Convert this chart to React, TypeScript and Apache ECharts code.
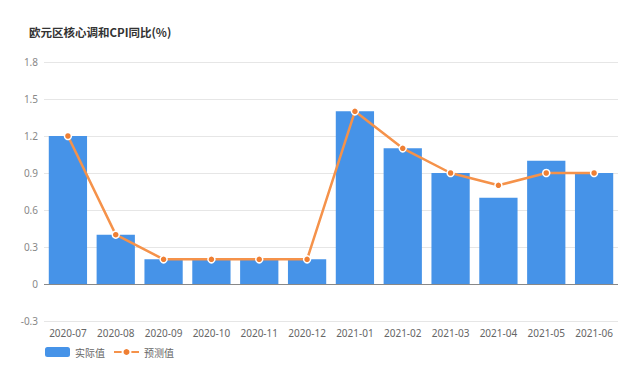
import React, { useEffect, useRef } from "react";
import * as echarts from "echarts";

const categories = ["2020-07", "2020-08", "2020-09", "2020-10", "2020-11", "2020-12", "2021-01", "2021-02", "2021-03", "2021-04", "2021-05", "2021-06"];
const actualValues = [1.2, 0.4, 0.2, 0.2, 0.2, 0.2, 1.4, 1.1, 0.9, 0.7, 1.0, 0.9];
const forecastValues = [1.2, 0.4, 0.2, 0.2, 0.2, 0.2, 1.4, 1.1, 0.9, 0.8, 0.9, 0.9];
const yMin = -0.3;
const yMax = 1.8;
const yInterval = 0.3;

export default function App() {
  const ref = useRef<HTMLDivElement>(null);
  useEffect(() => {
    if (!ref.current) return;
    const chart = echarts.init(ref.current, undefined, { renderer: "svg" });
    chart.setOption({
      animation: false,
      title: {
        text: "欧元区核心调和CPI同比(%)",
        left: 24,
        top: 21,
        textStyle: { fontSize: 11.5, fontWeight: "bold", color: "#333", fontFamily: "Noto Sans CJK SC" },
      },
      grid: { left: 44, right: 22, top: 62, bottom: 48, containLabel: false },
      legend: {
        left: 40,
        top: 342,
        itemWidth: 25,
        itemHeight: 10,
        itemGap: 8,
        textStyle: { fontSize: 10, color: "#666", fontFamily: "Noto Sans CJK SC" },
        data: [
          { name: "实际值", icon: "roundRect" },
          { name: "预测值" },
        ],
      },
      xAxis: {
        type: "category",
        data: categories,
        axisLine: { show: false },
        axisTick: { show: false },
        axisLabel: { color: "#666", fontSize: 10, margin: 7, interval: 0, fontFamily: "Noto Sans" },
      },
      yAxis: {
        type: "value",
        min: yMin,
        max: yMax,
        interval: yInterval,
        axisLine: { show: false },
        axisTick: { show: false },
        axisLabel: {
          color: "#888",
          fontSize: 10,
          margin: 6,
          fontFamily: "Noto Sans",
          formatter: (v: number) => (Math.abs(v) < 1e-9 ? "0" : v.toFixed(1)),
        },
        splitLine: { lineStyle: { color: "#e6e6e6", width: 1 } },
      },
      series: [
        {
          name: "实际值",
          type: "bar",
          data: actualValues,
          barCategoryGap: "20%",
          itemStyle: { color: "#4693e8" },
          markLine: {
            silent: true,
            symbol: "none",
            label: { show: false },
            lineStyle: { color: "#888", type: "solid", width: 1 },
            data: [{ yAxis: 0 }],
          },
        },
        {
          name: "预测值",
          type: "line",
          data: forecastValues,
          symbol: "circle",
          symbolSize: 7,
          lineStyle: { color: "#f5924a", width: 2.5 },
          itemStyle: { color: "#ef7f33", borderColor: "#fff", borderWidth: 1.5 },
        },
      ],
    });
    return () => chart.dispose();
  }, []);
  return <div ref={ref} style={{ width: 640, height: 369, position: "absolute", left: 0, top: 0 }} />;
}
